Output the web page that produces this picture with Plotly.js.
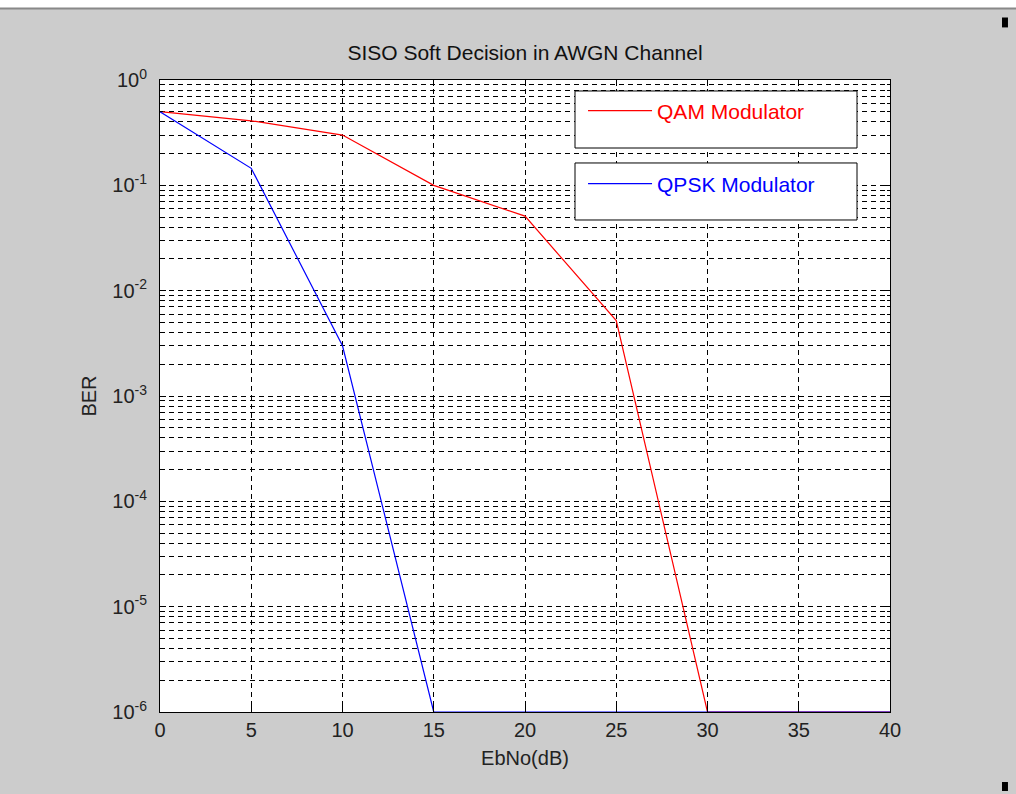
<!DOCTYPE html>
<html><head><meta charset="utf-8">
<script src="https://cdn.plot.ly/plotly-3.0.1.min.js"></script>
<style>html,body{margin:0;padding:0;background:#cccccc;}#chart{width:1016px;height:794px;}</style>
</head><body><div id="chart"></div>
<script>
var ebno = [0, 5, 10, 15, 20, 25, 30, 35, 40];
var berQAM = [0.5, 0.41, 0.3, 0.1, 0.051, 0.0052, 1e-6, 1e-6, 1e-6];
var berQPSK = [0.5, 0.145, 0.003, 1e-6, 1e-6, 1e-6, 1e-6, 1e-6, 1e-6];
var yTickVals = [1e-6, 1e-5, 1e-4, 1e-3, 1e-2, 1e-1, 1];
var yTickText = ['10<sup>-6</sup>', '10<sup>-5</sup>', '10<sup>-4</sup>', '10<sup>-3</sup>', '10<sup>-2</sup>', '10<sup>-1</sup>', '10<sup>0</sup>'];
var xTickVals = [0, 5, 10, 15, 20, 25, 30, 35, 40];

var F = 'Arial, "Liberation Sans", sans-serif';
var traces = [
  {x: ebno, y: berQAM, mode: 'lines', name: 'QAM Modulator', line: {color: '#ff0000', width: 1.2}, legend: 'legend'},
  {x: ebno, y: berQPSK, mode: 'lines', name: 'QPSK Modulator', line: {color: '#0000ff', width: 1.2}, legend: 'legend2'}
];
var gridDash = '5px,4px';
var layout = {
  width: 1016, height: 794,
  paper_bgcolor: '#cccccc', plot_bgcolor: '#ffffff',
  margin: {l: 160, r: 126, t: 80, b: 82},
  font: {family: F, size: 20, color: '#000'},
  title: {text: 'SISO Soft Decision in AWGN Channel', font: {family: F, size: 21, color: '#111'}, x: 0.5, xref: 'paper', xanchor: 'center', y: 1, yref: 'paper', yanchor: 'bottom', pad: {b: 20}},
  xaxis: {
    range: [0, 40], tickvals: xTickVals, ticktext: xTickVals.map(String),
    showline: true, linecolor: '#000', linewidth: 1, mirror: 'ticks',
    ticks: 'inside', ticklen: 6, tickcolor: '#000',
    showgrid: true, gridcolor: '#000', griddash: gridDash, gridwidth: 1, zeroline: false,
    tickfont: {family: F, size: 20, color: '#222'},
    title: {text: 'EbNo(dB)', font: {family: F, size: 20, color: '#222'}, standoff: 10}
  },
  yaxis: {
    type: 'log', range: [-6, 0], tickvals: yTickVals, ticktext: yTickText,
    showline: true, linecolor: '#000', linewidth: 1, mirror: 'ticks',
    ticks: 'inside', ticklen: 6, tickcolor: '#000', ticklabelstandoff: 8,
    showgrid: true, gridcolor: '#000', griddash: gridDash, gridwidth: 1, zeroline: false,
    tickfont: {family: F, size: 20, color: '#222'},
    minor: {dtick: 'D1', showgrid: true, gridcolor: '#000', griddash: gridDash, gridwidth: 1, ticks: 'inside', ticklen: 3, tickcolor: '#000'},
    title: {text: 'BER', font: {family: F, size: 20, color: '#222'}, standoff: 10}
  },
  legend: {x: 0.5795, y: 0.951, xanchor: 'left', yanchor: 'middle', itemwidth: 64, bgcolor: 'rgba(0,0,0,0)', borderwidth: 0, font: {family: F, size: 21, color: '#ff0000'}},
  legend2: {x: 0.5795, y: 0.8354, xanchor: 'left', yanchor: 'middle', itemwidth: 64, bgcolor: 'rgba(0,0,0,0)', borderwidth: 0, font: {family: F, size: 21, color: '#0000ff'}},
  shapes: [
    {type: 'rect', xref: 'paper', yref: 'paper', x0: 0.5685, x1: 0.9548, y0: 0.8924, y1: 0.9826, fillcolor: '#ffffff', line: {color: '#000', width: 1}, layer: 'above'},
    {type: 'rect', xref: 'paper', yref: 'paper', x0: 0.5685, x1: 0.9548, y0: 0.7785, y1: 0.8687, fillcolor: '#ffffff', line: {color: '#000', width: 1}, layer: 'above'},
    {type: 'rect', xref: 'paper', yref: 'paper', x0: -0.25, x1: 1.2, y0: 1.114, y1: 1.2, fillcolor: '#ffffff', line: {width: 0}, layer: 'above'},
    {type: 'line', xref: 'paper', yref: 'paper', x0: -0.25, x1: 1.2, y0: 1.113, y1: 1.113, line: {color: '#888888', width: 2}, layer: 'above'},
    {type: 'rect', xref: 'paper', yref: 'paper', x0: 1.1534, x1: 1.1616, y0: 1.0989, y1: 1.0832, fillcolor: '#000', line: {width: 0}, layer: 'above'},
    {type: 'rect', xref: 'paper', yref: 'paper', x0: 1.1534, x1: 1.1616, y0: -0.1108, y1: -0.1250, fillcolor: '#000', line: {width: 0}, layer: 'above'}
  ],
  showlegend: true
};
Plotly.newPlot('chart', traces, layout, {displayModeBar: false, staticPlot: true});
</script></body></html>
